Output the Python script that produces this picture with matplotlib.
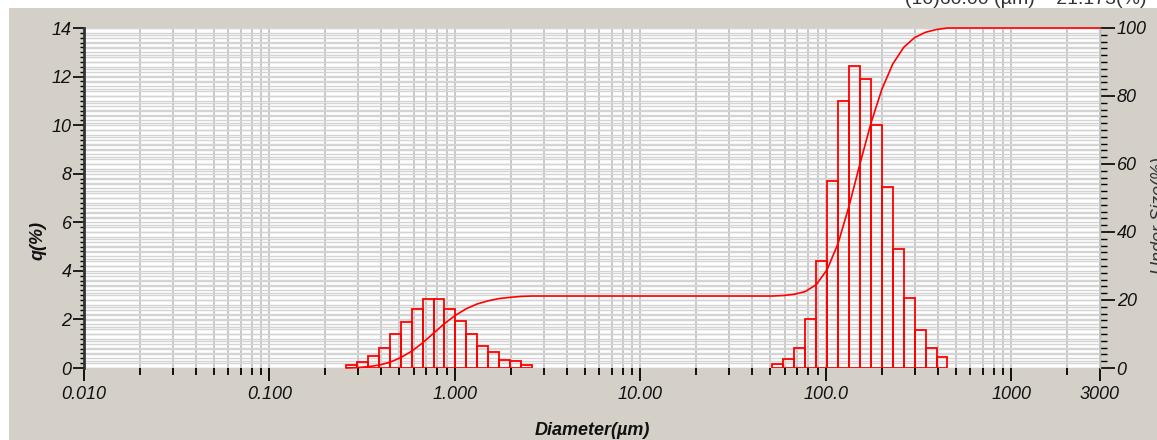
import numpy as np
import matplotlib
matplotlib.use("Agg")
import matplotlib.pyplot as plt
from matplotlib.patches import Rectangle
from matplotlib.ticker import FixedLocator, NullFormatter

plt.rcParams["font.family"] = ["Liberation Sans", "DejaVu Sans"]

# bin edges (um) and frequency q(%) of the two modes
fine_edges = [0.259, 0.296, 0.339, 0.389, 0.445, 0.510, 0.584, 0.669, 0.766,
              0.877, 1.005, 1.151, 1.318, 1.510, 1.729, 1.981, 2.269, 2.599]
fine_q = [0.12, 0.26, 0.48, 0.81, 1.39, 1.89, 2.42, 2.85, 2.85,
          2.42, 1.95, 1.40, 0.92, 0.67, 0.35, 0.28, 0.13]

coarse_edges = [51.471, 58.953, 67.523, 77.339, 88.583, 101.460, 116.210,
                133.103, 152.453, 174.616, 200.000, 229.075, 262.376,
                300.518, 344.206, 394.244, 451.556]
coarse_q = [0.15, 0.36, 0.81, 2.03, 4.42, 7.71, 10.98, 12.43,
            11.90, 10.00, 7.46, 4.89, 2.88, 1.56, 0.81, 0.47]

# cumulative under size (%) at the bin upper edges
cum_diam = fine_edges + coarse_edges + [3000]
cum_pct = [0,
           0.12, 0.38, 0.86, 1.67, 3.06, 4.95, 7.37, 10.22, 13.07,
           15.49, 17.44, 18.84, 19.76, 20.43, 20.78, 21.06, 21.17,
           21.17,
           21.32, 21.68, 22.49, 24.52, 28.94, 36.65, 47.63, 60.06,
           71.96, 81.96, 89.42, 94.31, 97.19, 98.75, 99.56, 100.0,
           100.0]

x_ticks = [0.01, 0.1, 1, 10, 100, 1000, 3000]
x_labels = ["0.010", "0.100", "1.000", "10.00", "100.0", "1000", "3000"]
minor_x = [m * 10.0 ** k for k in range(-2, 3) for m in range(2, 10)] + [2000]

fig = plt.figure(figsize=(11.57, 4.40), dpi=100, facecolor="white")
fig.patches.append(Rectangle((9 / 1157, 0), 1, 432 / 440, transform=fig.transFigure,
                             facecolor="#d4d0c8", edgecolor="none", zorder=-10))

rect = [84 / 1157, 72 / 440, 1016 / 1157, 340 / 440]

# background axes only for the grid (both y scales)
gax = fig.add_axes(rect, zorder=0)
gax.set_facecolor("white")
gax.set_xscale("log")
gax.set_xlim(0.01, 3000)
gax.set_ylim(0, 14)
gax.xaxis.set_major_locator(FixedLocator(x_ticks))
gax.xaxis.set_minor_locator(FixedLocator(minor_x))
gax.set_yticks(np.arange(0, 14.01, 0.2))
gax.grid(True, which="both", axis="x", color="#c4c4c4", linewidth=1.3)
gax.grid(True, axis="y", color="#d4d4d4", linewidth=1.0)
gax.tick_params(which="both", length=0, labelbottom=False, labelleft=False)
gax2 = gax.twinx()
gax2.set_ylim(0, 100)
gax2.set_yticks(np.arange(0, 100.1, 2))
gax2.grid(True, axis="y", color="#d4d4d4", linewidth=1.0)
gax2.tick_params(which="both", length=0, labelright=False)
for a in (gax, gax2):
    for s in a.spines.values():
        s.set_visible(False)

ax = fig.add_axes(rect, zorder=2)
ax.patch.set_visible(False)
ax2 = ax.twinx()
ax2.set_zorder(3)
ax2.patch.set_visible(False)

ax.set_xscale("log")
ax.set_xlim(0.01, 3000)
ax.set_ylim(0, 14)
ax2.set_ylim(0, 100)

# histogram bars
for edges, q in [(fine_edges, fine_q), (coarse_edges, coarse_q)]:
    e = np.array(edges)
    ax.bar(e[:-1], q, width=np.diff(e), align="edge", fill=False,
           edgecolor="#ff0000", linewidth=1.3, zorder=3)

# cumulative curve
ax2.plot(cum_diam, cum_pct, color="#ff0000", linewidth=1.2, zorder=3,
         clip_on=False)

# x axis ticks
ax.xaxis.set_major_locator(FixedLocator(x_ticks))
ax.xaxis.set_minor_locator(FixedLocator(minor_x))
ax.set_xticklabels(x_labels)
ax.xaxis.set_minor_formatter(NullFormatter())
ax.tick_params(axis="x", which="major", length=9, width=1.3, direction="out",
               pad=4, labelsize=13)
ax.tick_params(axis="x", which="minor", length=5, width=1.3, direction="out")

# left axis
ax.set_yticks(np.arange(0, 15, 2))
ax.set_yticks(np.arange(0, 14.01, 0.2), minor=True)
ax.tick_params(axis="y", which="major", length=8, width=1.2, direction="out",
               pad=1, labelsize=13)
ax.tick_params(axis="y", which="minor", length=3, width=1, direction="out")

# right axis
ax2.set_yticks(np.arange(0, 101, 20))
ax2.set_yticks(np.arange(0, 100.1, 2), minor=True)
ax2.tick_params(axis="y", which="major", length=11, width=1.2, direction="out",
                pad=1, labelsize=13)
ax2.tick_params(axis="y", which="minor", length=5, width=1, direction="out")

for lab in ax.get_xticklabels() + ax.get_yticklabels() + ax2.get_yticklabels():
    lab.set_fontstyle("italic")
    lab.set_color("#111111")

for a in (ax, ax2):
    for s in ("top", "bottom", "right", "left"):
        a.spines[s].set_visible(False)
ax.spines["left"].set_visible(True)
ax.spines["left"].set_color("#333333")
ax.spines["left"].set_linewidth(2)
ax2.spines["right"].set_visible(True)
ax2.spines["right"].set_color("#bbbbbb")
ax2.spines["right"].set_linewidth(1)

fig.text(592 / 1157, 10 / 440, "Diameter(\u00b5m)", ha="center", va="center",
         fontsize=13, fontstyle="italic", fontweight="bold", color="#111111")
fig.text(38 / 1157, 200 / 440, "q(%)", ha="center", va="center", rotation=90,
         fontsize=13, fontstyle="italic", fontweight="bold", color="#111111")
fig.text(1151 / 1157, 225 / 440, "Under Size(%)", ha="left", va="center",
         rotation=90, fontsize=13, fontstyle="italic", color="#333333")
fig.text(893 / 1157, 1 - 4 / 440, "\u00b7 (10)60.00 (\u00b5m)    21.173(%)",
         ha="left", va="baseline", fontsize=14, color="#333333")

fig.savefig("out.png", dpi=100, facecolor=fig.get_facecolor())
